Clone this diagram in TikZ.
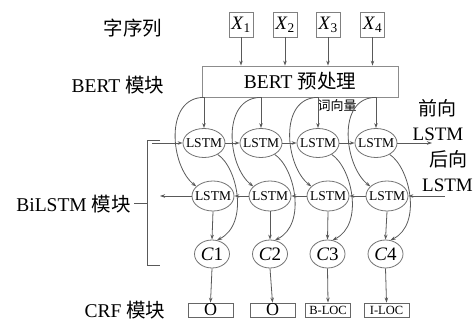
\documentclass[tikz,border=0pt]{standalone}
\usepackage{fontspec}
\setmainfont{Liberation Serif}
\newfontfamily\cjk{Noto Sans CJK SC}
\usetikzlibrary{shapes.geometric,arrows.meta}
\newcommand\fsz[1]{\fontsize{#1}{#1}\selectfont}
\begin{document}
\begin{tikzpicture}[x=1pt,y=-1pt,
  lc/.style={draw=black!65, line width=0.8pt},
  arr/.style={lc, -{Stealth[length=5pt,width=3.5pt]}},
  lstmnode/.style={ellipse, draw=black!55, line width=0.8pt, minimum width=42pt, minimum height=29pt, inner sep=0pt, font=\fsz{13.5}},
  cnode/.style={ellipse, draw=black!55, line width=0.8pt, minimum width=35pt, minimum height=28pt, inner sep=0pt, font=\fsz{19}},
  xbox/.style={draw=black!50, line width=0.8pt, minimum width=24pt, minimum height=25pt, inner sep=0pt, font=\fsz{19}},
  obox/.style={draw=black!60, line width=0.8pt, minimum width=45pt, minimum height=14pt, inner sep=0pt},
  lbl/.style={inner sep=0pt, font=\fsz{19.5}},
]
\useasboundingbox (0,0) rectangle (476,323);

% input tokens
\node[xbox] (X1) at (241,24.5) {\makebox[0pt]{\itshape X\/\upshape\textsubscript{1}}};
\node[xbox] (X2) at (285,24.5) {\makebox[0pt]{\itshape X\/\upshape\textsubscript{2}}};
\node[xbox] (X3) at (328,24.5) {\makebox[0pt]{\itshape X\/\upshape\textsubscript{3}}};
\node[xbox] (X4) at (372.5,24.5) {\makebox[0pt]{\itshape X\/\upshape\textsubscript{4}}};

% BERT box
\node[draw=black!45, line width=0.8pt, minimum width=196pt, minimum height=31pt, inner sep=0pt, font=\fsz{19.5}] (bert) at (300,81.5) {BERT {\cjk 预处理}};

% LSTM rows
\node[lstmnode] (F1) at (204,143) {\makebox[0pt]{LSTM}};
\node[lstmnode] (F2) at (261,143) {\makebox[0pt]{LSTM}};
\node[lstmnode] (F3) at (318,143) {\makebox[0pt]{LSTM}};
\node[lstmnode] (F4) at (376,143) {\makebox[0pt]{LSTM}};
\node[lstmnode, minimum height=30pt] (B1) at (213,196) {\makebox[0pt]{LSTM}};
\node[lstmnode, minimum height=30pt] (B2) at (270,196) {\makebox[0pt]{LSTM}};
\node[lstmnode, minimum height=30pt] (B3) at (328,196) {\makebox[0pt]{LSTM}};
\node[lstmnode, minimum height=30pt] (B4) at (387,196) {\makebox[0pt]{LSTM}};

% C nodes
\node[cnode] (C1) at (212,254) {\makebox[0pt]{\itshape C\/\upshape 1}};
\node[cnode] (C2) at (270,254) {\makebox[0pt]{\itshape C\/\upshape 2}};
\node[cnode] (C3) at (327.5,254) {\makebox[0pt]{\itshape C\/\upshape 3}};
\node[cnode] (C4) at (385.5,254) {\makebox[0pt]{\itshape C\/\upshape 4}};

% output tags
\node[obox, font=\fsz{18}] (O1) at (210.5,310) {O};
\node[obox, font=\fsz{18}] (O2) at (272.5,310) {O};
\node[obox, font=\fsz{12.5}] (O3) at (328,310) {B-LOC};
\node[obox, font=\fsz{12.5}] (O4) at (386.5,310) {I-LOC};

% labels
\node[lbl] (zi) at (133,28) {\cjk 字序列};
\node[lbl] (bertlab) at (118,85) {BERT {\cjk 模块}};
\node[lbl] (bilab) at (73.5,204) {BiLSTM {\cjk 模块}};
\node[lbl] (crflab) at (125,310) {CRF {\cjk 模块}};
\node[inner sep=0pt, font=\fsz{13}] (ciw) at (337,106) {\cjk 词向量};
\node[lbl, font=\fsz{19}] (qx) at (437,108) {\cjk 前向};
\node[lbl, font=\fsz{19}] (qxl) at (438,134) {LSTM};
\node[lbl, font=\fsz{19}] (hx) at (448,159) {\cjk 后向};
\node[lbl, font=\fsz{19}] (hxl) at (447.5,185) {LSTM};

% free ends
\coordinate (fin) at (152,143);
\coordinate (bout) at (160,196);
\coordinate (fout) at (432,143);
\coordinate (bin) at (445,196);

% connectors per column
\foreach \i in {1,...,4} {
  \draw[arr] (X\i.south) -- (X\i.south |- bert.north);
  \draw[arr] (F\i |- bert.south) -- (F\i.north);
  \draw[arr] (F\i |- bert.south) .. controls +(-40,0) and +(-26,-20) .. (B\i.150);
  \draw[arr] (F\i.-40) .. controls +(20,13) and +(32,-16) .. (C\i.70);
  \draw[arr] (B\i.south) -- (C\i.north);
  \draw[arr] (C\i.south) -- (O\i.north);
}

% forward chain
\draw[arr] (fin) -- (F1.west);
\draw[arr] (F1.east) -- (F2.west);
\draw[arr] (F2.east) -- (F3.west);
\draw[arr] (F3.east) -- (F4.west);
\draw[arr] (F4.east) -- (fout);

% backward chain
\draw[arr] (bin) -- (B4.east);
\draw[arr] (B4.west) -- (B3.east);
\draw[arr] (B3.west) -- (B2.east);
\draw[arr] (B2.west) -- (B1.east);
\draw[arr] (B1.west) -- (bout);

% bracket
\draw[lc] (160,140) -- (147,140) -- (147,265) -- (160,265);
\draw[lc] (134,203) -- (147,203);
\end{tikzpicture}
\end{document}
